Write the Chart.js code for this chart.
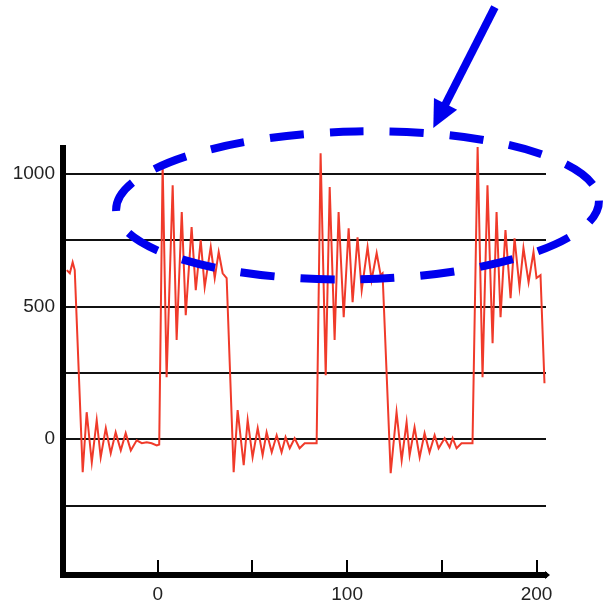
<!DOCTYPE html>
<html>
<head>
<meta charset="utf-8">
<script src="https://cdn.jsdelivr.net/npm/chart.js@4"></script>
<style>
  html, body { margin: 0; padding: 0; background: #ffffff; }
  #wrap { width: 605px; height: 613px; position: relative; }
</style>
</head>
<body>
<div id="wrap"><canvas id="c" width="605" height="613"></canvas></div>
<script>
// ---- data ----
const xs = [
  -48.0, -46.4, -44.9, -43.8, -39.6, -37.5, -34.8, -32.2, -30.1, -27.4, -24.8, -22.2, -19.5, -16.9, -14.2, -11.1, -8.4, -5.8, -3.2, -0.5, 0.8,
  2.6, 4.7, 7.9, 10.0, 12.7, 14.8, 17.9, 20.1, 22.7, 24.8, 28.0, 30.1, 32.2, 34.3, 36.4,
  40.1, 42.2, 45.4, 47.5, 50.1, 52.8, 55.4, 57.5, 60.2, 62.8, 65.4, 67.5, 69.7, 72.3, 74.9, 77.6, 83.9,
  86.0, 88.7, 90.8, 93.4, 95.5, 98.2, 100.8, 102.9, 105.5, 107.7, 110.8, 112.9, 115.6, 117.7, 118.7,
  123.0, 126.1, 128.8, 131.4, 133.0, 135.6, 138.3, 140.9, 143.5, 146.2, 148.3, 151.5, 154.1, 155.7, 157.8, 160.4, 166.2,
  168.9, 171.5, 174.1, 176.8, 178.9, 181.0, 183.6, 186.3, 188.4, 191.0, 193.1, 195.8, 198.4, 200.0, 202.1, 204.2
];
const ys = [
  638, 626, 668, 638, -124, 102, -87, 72, -68, 42, -53, 26, -42, 23, -42, -4, -15, -11, -15, -23, -20,
  1040, 234, 958, 374, 857, 468, 800, 562, 751, 574, 725, 608, 706, 626, 608,
  -124, 110, -98, 72, -68, 42, -60, 26, -49, 15, -49, 8, -34, 4, -34, -15, -15,
  1079, 241, 951, 374, 857, 460, 796, 517, 762, 562, 725, 600, 702, 619, 626,
  -128, 102, -79, 64, -60, 45, -68, 23, -49, 15, -34, 4, -30, 4, -34, -15, -15,
  1102, 234, 958, 362, 857, 460, 789, 532, 758, 574, 721, 592, 706, 608, 619, 211
];
const yGridTicks = [-250, 0, 250, 500, 750, 1000];
const yLabelTicks = [0, 500, 1000];
const xTicks = [0, 50, 100, 150, 200];
const xLabelTicks = [0, 100, 200];
// annotation (data units)
const ellipseCenter = [105.5, 882];
const ellipseRadii = [127.5, 279];
const arrowFrom = [178, 1630];
const arrowTo = [145.5, 1174];

const points = xs.map((x, i) => ({ x: x, y: ys[i] }));
const FONT = "'Liberation Sans', Arial, sans-serif";

const decor = {
  id: 'decor',
  afterDraw(chart) {
    const ctx = chart.ctx;
    const a = chart.chartArea;
    const xs_ = chart.scales.x, ys_ = chart.scales.y;
    ctx.save();
    ctx.fillStyle = '#000';
    // left axis
    ctx.fillRect(a.left - 3, a.top - 1, 6, a.bottom - a.top + 4);
    // bottom axis
    ctx.fillRect(a.left - 3, a.bottom - 3, a.right - a.left + 4, 6);
    // small arrow tip at right end
    ctx.beginPath();
    ctx.moveTo(a.right - 1, a.bottom - 4);
    ctx.lineTo(a.right + 4, a.bottom);
    ctx.lineTo(a.right - 1, a.bottom + 4);
    ctx.closePath();
    ctx.fill();
    // inner ticks
    ctx.strokeStyle = '#000';
    ctx.lineWidth = 2;
    xTicks.forEach(v => {
      const px = Math.round(xs_.getPixelForValue(v));
      ctx.beginPath();
      ctx.moveTo(px, a.bottom - 3);
      ctx.lineTo(px, a.bottom - 15);
      ctx.stroke();
    });
    // dashed ellipse
    const cx = xs_.getPixelForValue(ellipseCenter[0]);
    const cy = ys_.getPixelForValue(ellipseCenter[1]);
    const rx = xs_.getPixelForValue(ellipseCenter[0] + ellipseRadii[0]) - cx;
    const ry = cy - ys_.getPixelForValue(ellipseCenter[1] + ellipseRadii[1]);
    ctx.strokeStyle = '#0000ee';
    ctx.lineWidth = 8;
    ctx.setLineDash([34, 26]);
    ctx.lineDashOffset = 10;
    ctx.beginPath();
    ctx.ellipse(cx, cy, rx, ry, -0.02, 0, Math.PI * 2);
    ctx.stroke();
    ctx.setLineDash([]);
    // arrow
    const x1 = xs_.getPixelForValue(arrowFrom[0]), y1 = ys_.getPixelForValue(arrowFrom[1]);
    const x2 = xs_.getPixelForValue(arrowTo[0]), y2 = ys_.getPixelForValue(arrowTo[1]);
    const dx = x2 - x1, dy = y2 - y1, len = Math.hypot(dx, dy);
    const ux = dx / len, uy = dy / len;
    const headLen = 27, headW = 13;
    const bx = x2 - ux * headLen, by = y2 - uy * headLen;
    ctx.lineWidth = 8;
    ctx.lineCap = 'butt';
    ctx.beginPath();
    ctx.moveTo(x1, y1);
    ctx.lineTo(bx + ux * 2, by + uy * 2);
    ctx.stroke();
    ctx.fillStyle = '#0000ee';
    ctx.beginPath();
    ctx.moveTo(x2, y2);
    ctx.lineTo(bx - uy * headW, by + ux * headW);
    ctx.lineTo(bx + uy * headW, by - ux * headW);
    ctx.closePath();
    ctx.fill();
    ctx.restore();
  }
};

new Chart(document.getElementById('c'), {
  type: 'line',
  data: {
    datasets: [{
      data: points,
      borderColor: 'rgb(240,58,42)',
      borderWidth: 2,
      pointRadius: 0,
      tension: 0,
      fill: false
    }]
  },
  options: {
    responsive: false,
    animation: false,
    parsing: true,
    layout: { padding: { top: 146, right: 59, bottom: 0, left: 0 } },
    plugins: { legend: { display: false }, tooltip: { enabled: false } },
    scales: {
      x: {
        type: 'linear',
        min: -50,
        max: 205,
        afterBuildTicks: s => { s.ticks = xTicks.map(v => ({ value: v })); },
        afterFit: s => { s.height = 38; },
        grid: { display: false, drawTicks: false },
        border: { display: false },
        ticks: {
          padding: 8,
          color: '#222',
          font: { family: FONT, size: 19 },
          maxRotation: 0,
          autoSkip: false,
          callback: v => xLabelTicks.includes(v) ? String(v) : ''
        }
      },
      y: {
        type: 'linear',
        min: -512,
        max: 1106,
        afterBuildTicks: s => { s.ticks = yGridTicks.map(v => ({ value: v })); },
        afterFit: s => { s.width = 63; },
        grid: { color: '#111', lineWidth: 2, drawTicks: false },
        border: { display: false },
        ticks: {
          padding: 8,
          color: '#222',
          font: { family: FONT, size: 19 },
          autoSkip: false,
          callback: v => yLabelTicks.includes(v) ? String(v) : ''
        }
      }
    }
  },
  plugins: [decor]
});
</script>
</body>
</html>
